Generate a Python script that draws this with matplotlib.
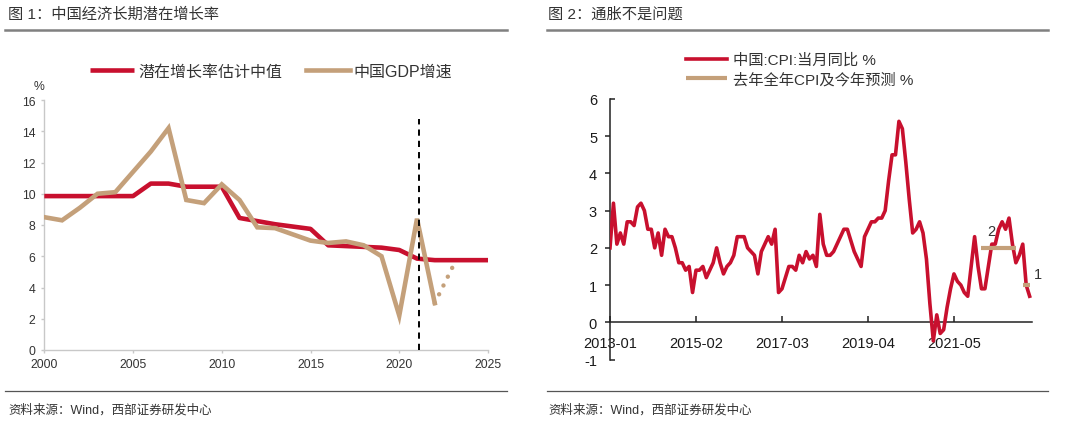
import matplotlib
matplotlib.use('Agg')
import matplotlib.pyplot as plt
from matplotlib.lines import Line2D
import numpy as np
import pandas as pd

plt.rcParams['font.family'] = ['Liberation Sans', 'Noto Sans CJK SC', 'DejaVu Sans']

# ---------------- data: chart 1 ----------------
pot_years = list(range(2000, 2026))
potential = [9.85, 9.85, 9.85, 9.85, 9.85, 9.85, 10.65, 10.65, 10.45, 10.45,
             10.45, 8.45, 8.25, 8.05, 7.9, 7.75, 6.7, 6.65, 6.6, 6.55,
             6.4, 5.85, 5.75, 5.75, 5.75, 5.75]
gdp_years = list(range(2000, 2023))
gdp = [8.5, 8.3, 9.1, 10.0, 10.1, 11.4, 12.7, 14.2, 9.6, 9.4,
       10.6, 9.6, 7.85, 7.8, 7.4, 7.0, 6.85, 6.95, 6.7, 6.0,
       2.2, 8.4, 3.0]
gdp_fc_years = [2022, 2023]
gdp_fc = [3.0, 5.3]
divider_year = 2021.1
left_yticks = [0, 2, 4, 6, 8, 10, 12, 14, 16]
left_xticks = [2000, 2005, 2010, 2015, 2020, 2025]
left_labels = ['潜在增长率估计中值', '中国GDP增速']

# ---------------- data: chart 2 ----------------
months = pd.date_range('2013-01-01', '2023-03-01', freq='MS').strftime('%Y-%m').tolist()
cpi = [2.0, 3.2, 2.1, 2.4, 2.1, 2.7, 2.7, 2.6, 3.1, 3.2, 3.0, 2.5,
       2.5, 2.0, 2.4, 1.8, 2.5, 2.3, 2.3, 2.0, 1.6, 1.6, 1.4, 1.5,
       0.8, 1.4, 1.4, 1.5, 1.2, 1.4, 1.6, 2.0, 1.6, 1.3, 1.5, 1.6,
       1.8, 2.3, 2.3, 2.3, 2.0, 1.9, 1.8, 1.3, 1.9, 2.1, 2.3, 2.1,
       2.5, 0.8, 0.9, 1.2, 1.5, 1.5, 1.4, 1.8, 1.6, 1.9, 1.7, 1.8,
       1.5, 2.9, 2.1, 1.8, 1.8, 1.9, 2.1, 2.3, 2.5, 2.5, 2.2, 1.9,
       1.7, 1.5, 2.3, 2.5, 2.7, 2.7, 2.8, 2.8, 3.0, 3.8, 4.5, 4.5,
       5.4, 5.2, 4.3, 3.3, 2.4, 2.5, 2.7, 2.4, 1.7, 0.5, -0.5, 0.2,
       -0.3, -0.2, 0.4, 0.9, 1.3, 1.1, 1.0, 0.8, 0.7, 1.5, 2.3, 1.5,
       0.9, 0.9, 1.5, 2.1, 2.1, 2.5, 2.7, 2.5, 2.8, 2.1, 1.6, 1.8,
       2.1, 1.0, 0.7]
last_year_cpi = 2
last_year_span = ['2022-01', '2022-11']
this_year_fc = 1
this_year_span = ['2023-01', '2023-03']
right_xtick_labels = ['2013-01', '2015-02', '2017-03', '2019-04', '2021-05']
right_yticks_major = [0, 1, 2, 3, 4, 5]
right_yticks_end = [-1, 6]
right_labels = ['中国:CPI:当月同比 %', '去年全年CPI及今年预测 %']

RED = '#C8102E'
TAN = '#C4A07A'
TXT = '#333333'

W, H = 1080, 427
fig = plt.figure(figsize=(W / 100, H / 100), dpi=100)

def fx(px):
    return px / W

def fy(py):
    return 1 - py / H

# ---------------- chart 1 ----------------
ax1 = fig.add_axes([fx(44.3), fy(351), fx(488 - 44.3), (351 - 101) / H])
l_pot, = ax1.plot(pot_years, potential, color=RED, lw=3.3, solid_capstyle='butt', zorder=3)
l_gdp, = ax1.plot(gdp_years, gdp, color=TAN, lw=3.3, solid_joinstyle='miter', zorder=4)
ax1.plot(gdp_fc_years, gdp_fc, color=TAN, lw=3.2, linestyle=(0, (0.01, 2.2)),
         dash_capstyle='round', zorder=4)
ax1.axvline(divider_year, ymin=0, ymax=14.8 / 16, color='black', lw=1.4,
            linestyle=(0, (3.2, 2.6)), zorder=5)
ax1.set_xlim(2000, 2025)
ax1.set_ylim(0, 16)
ax1.set_xticks(left_xticks)
ax1.set_yticks(left_yticks)
for s in ['top', 'right']:
    ax1.spines[s].set_visible(False)
for s in ['left', 'bottom']:
    ax1.spines[s].set_color('#c8c8c8')
    ax1.spines[s].set_linewidth(1.0)
ax1.tick_params(axis='both', direction='out', length=2.5, width=1, color='#c8c8c8',
                labelsize=8.8, labelcolor=TXT)
ax1.tick_params(axis='y', pad=4)
ax1.tick_params(axis='x', pad=3.5)
ax1.legend([l_pot, l_gdp], left_labels, ncol=2, loc='center left',
           bbox_to_anchor=(fx(90), fy(72.3)), bbox_transform=fig.transFigure,
           frameon=False, fontsize=11.5, handlelength=2.75, handletextpad=0.25,
           columnspacing=1.5, borderpad=0, borderaxespad=0, labelcolor=TXT)
fig.text(fx(39), fy(87), '%', ha='center', va='center', fontsize=8.8, color=TXT)

# ---------------- chart 2 ----------------
ax2 = fig.add_axes([fx(610), fy(360.5), fx(1031.7 - 610), (360.5 - 100) / H])
xi = np.arange(len(cpi))
l_cpi, = ax2.plot(xi, cpi, color=RED, lw=2.6, zorder=3)
i0, i1 = months.index(last_year_span[0]), months.index(last_year_span[1])
l_fc, = ax2.plot([i0, i1], [last_year_cpi, last_year_cpi], color=TAN, lw=3.0,
                 solid_capstyle='butt', zorder=4)
j0, j1 = months.index(this_year_span[0]), months.index(this_year_span[1])
ax2.plot([j0, j1], [this_year_fc, this_year_fc], color=TAN, lw=3.0,
         solid_capstyle='butt', zorder=4)
ax2.annotate(f'{last_year_cpi}', xy=(i0 + 3, last_year_cpi), xytext=(0, 7),
             textcoords='offset points', ha='center', va='bottom', fontsize=10.5, color=TXT)
ax2.annotate(f'{this_year_fc}', xy=(j1, this_year_fc), xytext=(3, 3),
             textcoords='offset points', ha='left', va='bottom', fontsize=10.5, color=TXT)
ax2.set_xlim(0, 122.6)
ax2.set_ylim(-1, 6)
ax2.set_xticks([months.index(m) for m in right_xtick_labels], right_xtick_labels)
ax2.set_yticks(right_yticks_major, [str(v) for v in right_yticks_major])
ax2.set_yticks(right_yticks_end, [str(v) for v in right_yticks_end], minor=True)
ax2.spines['top'].set_visible(False)
ax2.spines['right'].set_visible(False)
ax2.spines['bottom'].set_position(('data', 0))
ax2.spines['bottom'].set_color('#222222')
ax2.spines['left'].set_color('#222222')
ax2.spines['bottom'].set_linewidth(1.1)
ax2.spines['left'].set_linewidth(1.1)
ax2.tick_params(axis='x', direction='in', length=4, width=1.1, color='#222222',
                labelsize=10.5, labelcolor='#1a1a1a', pad=10)
ax2.tick_params(axis='y', which='major', direction='out', length=3.3, width=1.1,
                color='#222222', labelsize=10.5, labelcolor='#1a1a1a', pad=6)
ax2.tick_params(axis='y', which='minor', direction='in', length=3.3, width=1.1,
                color='#222222', labelsize=10.5, labelcolor='#1a1a1a', pad=9.3)
ax2.legend([l_cpi, l_fc], right_labels, ncol=1, loc='center left',
           bbox_to_anchor=(fx(685.7), fy(70.5)), bbox_transform=fig.transFigure,
           frameon=False, fontsize=11, handlelength=2.7, handletextpad=0.4,
           labelspacing=0.3, borderpad=0, borderaxespad=0, labelcolor=TXT)

# ---------------- titles, rules, sources ----------------
fig.text(fx(8), fy(15), '图 1：中国经济长期潜在增长率', ha='left', va='center',
         fontsize=11, color=TXT)
fig.text(fx(548), fy(15), '图 2：通胀不是问题', ha='left', va='center',
         fontsize=11, color=TXT)
for x0, x1 in [(5, 507), (547, 1048)]:
    fig.add_artist(Line2D([fx(x0), fx(x1)], [fy(30.7), fy(30.7)], color='#808080', lw=1.8))
    fig.add_artist(Line2D([fx(x0), fx(x1)], [fy(392), fy(392)], color='#555555', lw=0.9))
fig.text(fx(8), fy(410), '资料来源：Wind，西部证券研发中心', ha='left', va='center',
         fontsize=9, color=TXT)
fig.text(fx(548), fy(410), '资料来源：Wind，西部证券研发中心', ha='left', va='center',
         fontsize=9, color=TXT)

fig.savefig('out.png', dpi=100)
